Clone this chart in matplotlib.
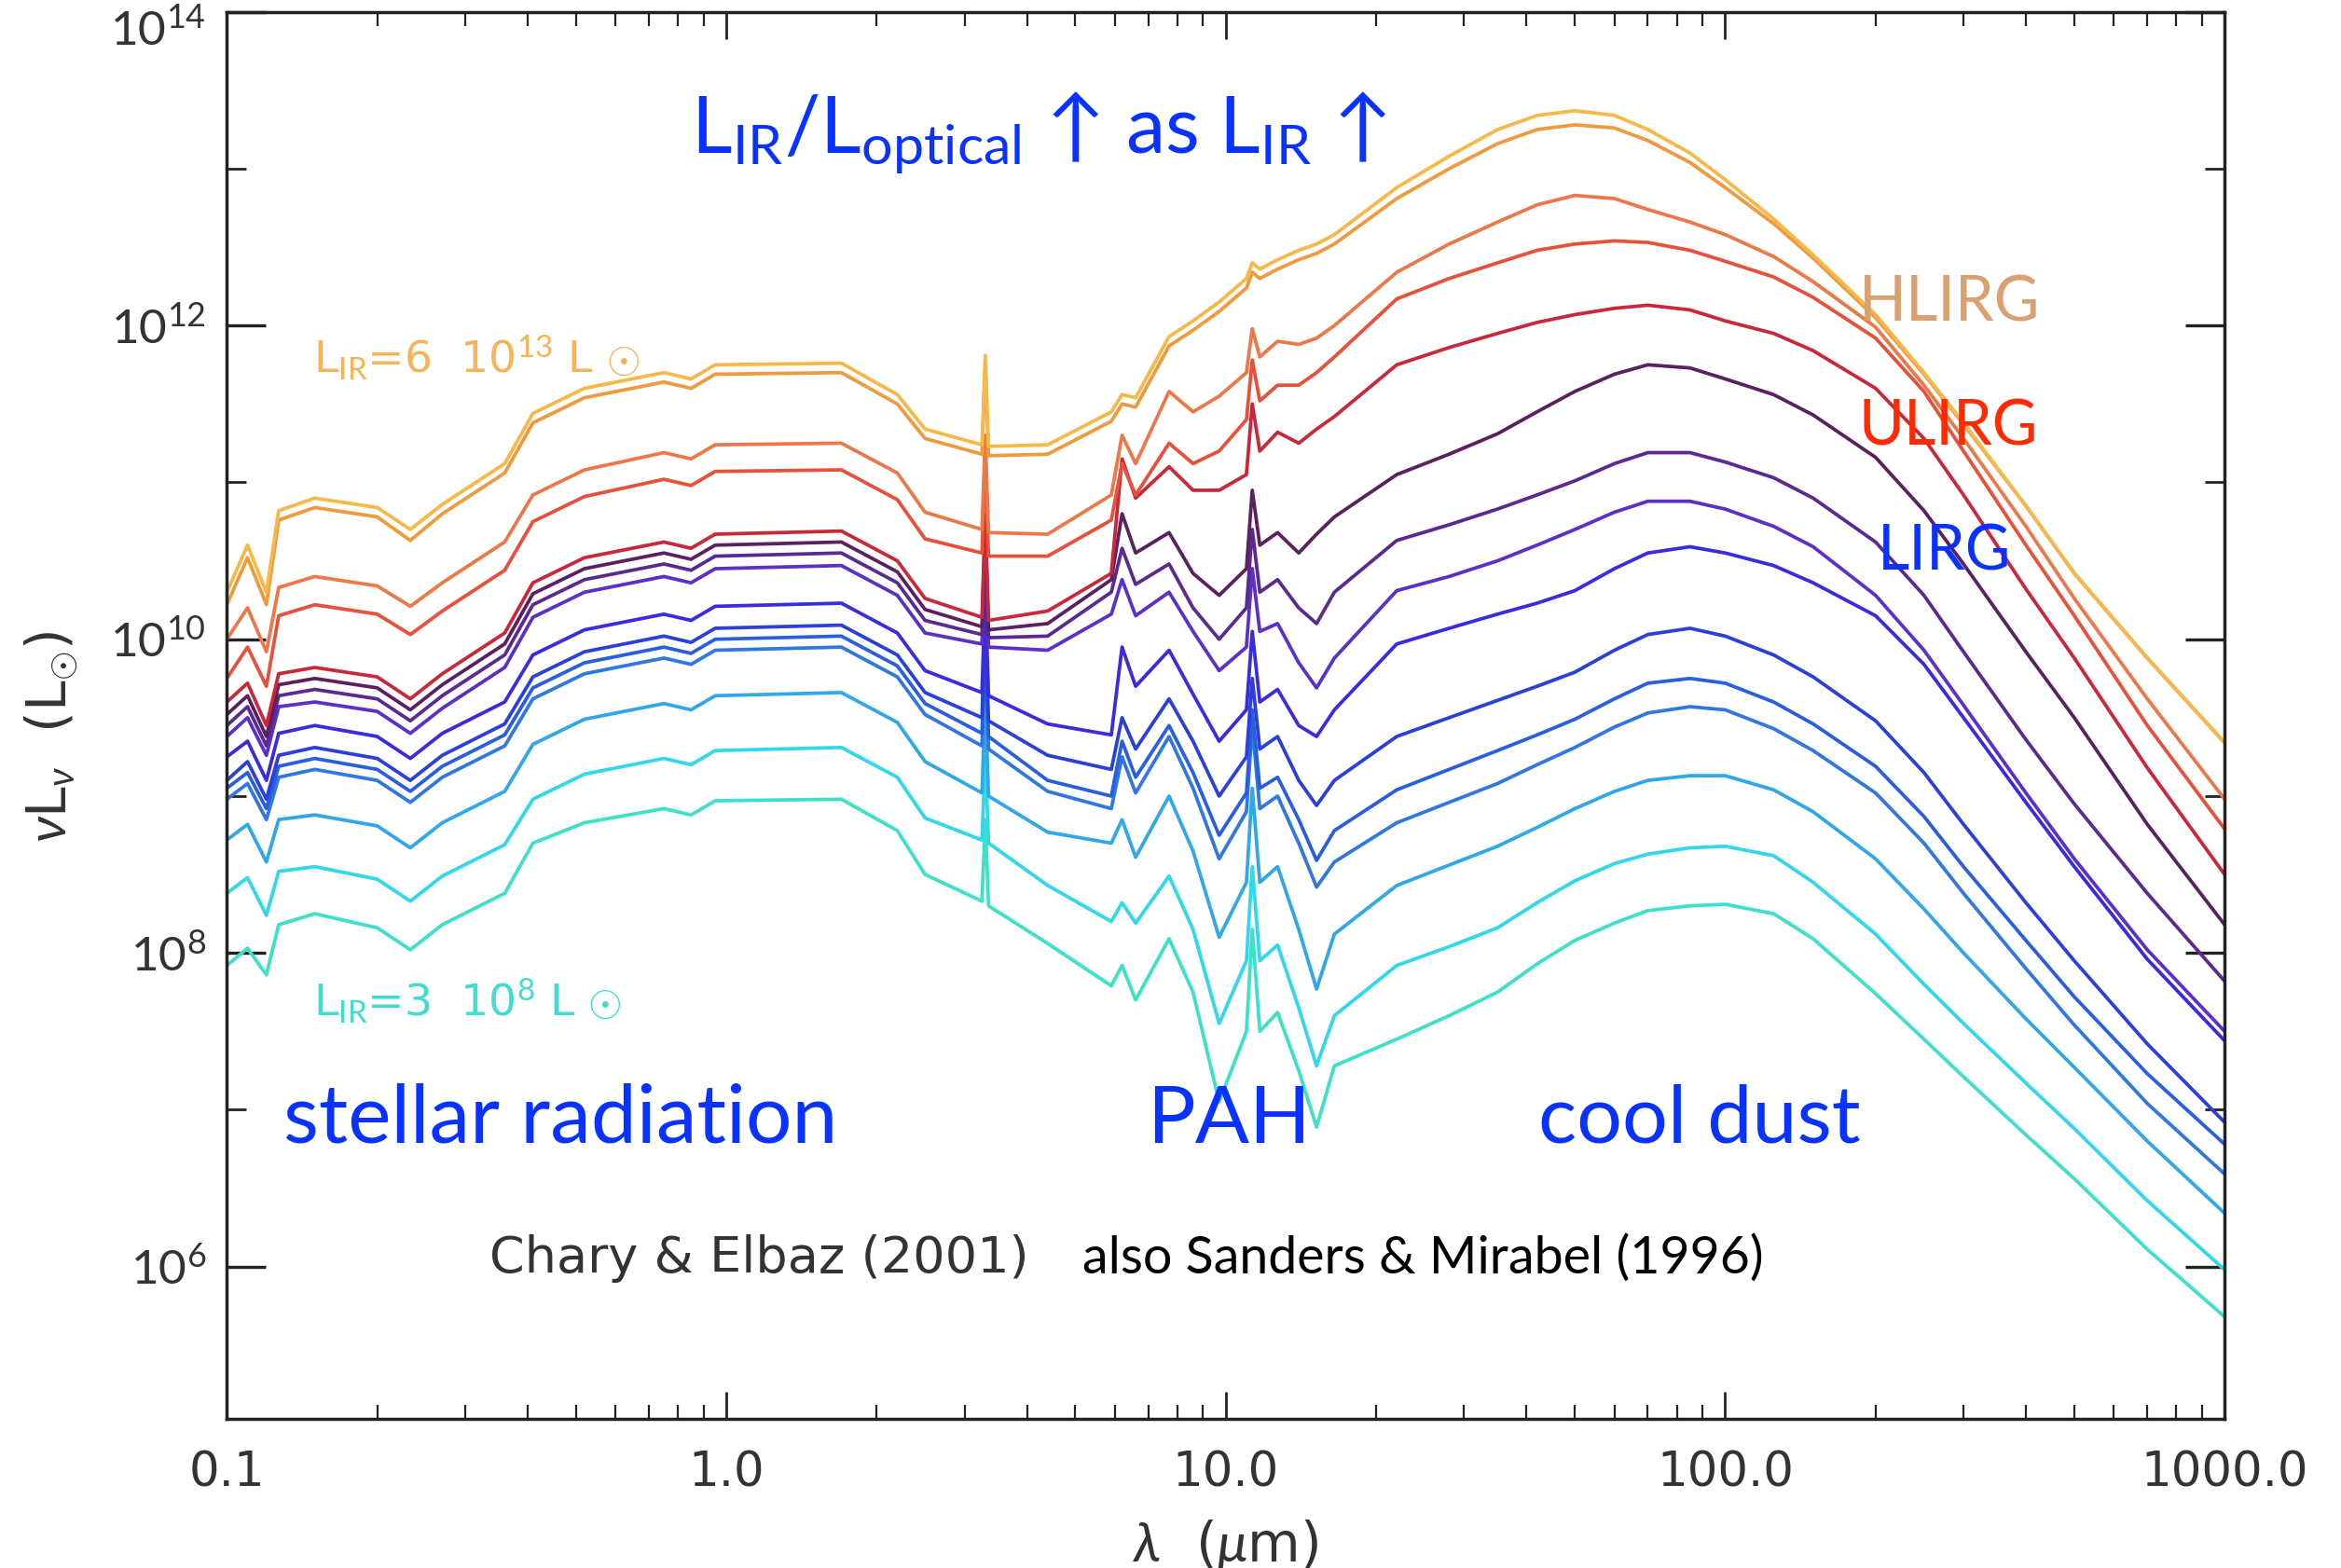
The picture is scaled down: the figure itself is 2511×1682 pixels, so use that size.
import matplotlib
matplotlib.use("Agg")
import matplotlib.pyplot as plt
import matplotlib.transforms as mtransforms
import numpy as np
from matplotlib.ticker import LogLocator, NullFormatter, FixedLocator

plt.rcParams['font.family'] = ['DejaVu Sans']
plt.rcParams['mathtext.fontset'] = 'custom'
plt.rcParams['mathtext.rm'] = 'Lato'
plt.rcParams['mathtext.it'] = 'Lato:italic'
plt.rcParams['mathtext.bf'] = 'Lato:bold'

# wavelength grid (micron) shared by all templates
wavelength = [0.10, 0.11, 0.12, 0.127, 0.15, 0.20, 0.233, 0.27, 0.36, 0.41, 0.52, 0.75, 0.85, 0.95,
              1.7, 2.2, 2.5, 3.25, 3.3, 3.35, 4.4, 5.9, 6.2, 6.6, 7.7, 8.6, 9.7, 11.0, 11.3, 11.7,
              12.7, 14.0, 15.2, 16.5,
              22, 28, 35, 42, 50, 60, 70, 85, 100, 125, 150, 200, 250, 300, 400, 500, 700, 1000]

# log10(nu L_nu / Lsun), brightest template first
sed_01 = [10.30, 10.60, 10.30, 10.82, 10.90, 10.84, 10.70, 10.86, 11.12, 11.44, 11.60, 11.70, 11.66, 11.75,
          11.76, 11.56, 11.34, 11.24, 11.81, 11.23, 11.24, 11.45, 11.56, 11.54, 11.93, 12.03, 12.15, 12.30, 12.40, 12.36,
          12.42, 12.48, 12.52, 12.58,
          12.88, 13.08, 13.25, 13.34, 13.37, 13.34, 13.25, 13.10, 12.93, 12.68, 12.45, 12.07, 11.70, 11.38, 10.85, 10.42, 9.88, 9.34]
sed_02 = [10.22, 10.52, 10.22, 10.76, 10.84, 10.78, 10.63, 10.80, 11.06, 11.38, 11.54, 11.64, 11.60, 11.69,
          11.70, 11.50, 11.28, 11.18, 11.75, 11.17, 11.18, 11.39, 11.50, 11.48, 11.87, 11.97, 12.09, 12.24, 12.34, 12.30,
          12.36, 12.42, 12.46, 12.52,
          12.81, 13.00, 13.16, 13.25, 13.28, 13.26, 13.18, 13.04, 12.88, 12.65, 12.43, 12.05, 11.69, 11.37, 10.85, 10.42, 9.88, 9.34]
sed_03 = [10.00, 10.20, 9.92, 10.33, 10.40, 10.34, 10.21, 10.36, 10.62, 10.92, 11.08, 11.19, 11.15, 11.24,
          11.25, 11.06, 10.81, 10.70, 11.30, 10.68, 10.67, 10.92, 11.30, 11.12, 11.58, 11.45, 11.55, 11.70, 11.98, 11.80,
          11.90, 11.88, 11.92, 12.00,
          12.34, 12.52, 12.66, 12.77, 12.83, 12.81, 12.74, 12.66, 12.58, 12.44, 12.28, 11.99, 11.62, 11.28, 10.72, 10.26, 9.62, 8.98]
sed_04 = [9.75, 9.95, 9.70, 10.15, 10.22, 10.16, 10.03, 10.18, 10.44, 10.75, 10.91, 11.02, 10.98, 11.07,
          11.08, 10.89, 10.64, 10.55, 11.15, 10.53, 10.53, 10.76, 11.12, 10.92, 11.25, 11.12, 11.20, 11.40, 11.78, 11.52,
          11.62, 11.62, 11.70, 11.80,
          12.17, 12.30, 12.40, 12.48, 12.52, 12.54, 12.53, 12.48, 12.41, 12.31, 12.18, 11.92, 11.58, 11.20, 10.60, 10.15, 9.45, 8.79]
sed_05 = [9.60, 9.72, 9.45, 9.78, 9.82, 9.76, 9.62, 9.78, 10.04, 10.36, 10.52, 10.62, 10.58, 10.67,
          10.69, 10.50, 10.26, 10.14, 10.80, 10.12, 10.18, 10.42, 11.15, 10.90, 11.10, 10.95, 10.95, 11.05, 11.50, 11.20,
          11.32, 11.25, 11.34, 11.42,
          11.75, 11.86, 11.95, 12.02, 12.07, 12.11, 12.13, 12.10, 12.03, 11.95, 11.84, 11.60, 11.28, 10.92, 10.32, 9.88, 9.18, 8.50]
sed_06 = [9.52, 9.64, 9.38, 9.71, 9.75, 9.69, 9.55, 9.71, 9.97, 10.29, 10.45, 10.55, 10.51, 10.60,
          10.62, 10.43, 10.19, 10.08, 10.72, 10.06, 10.10, 10.38, 10.80, 10.55, 10.68, 10.42, 10.28, 10.45, 10.95, 10.60,
          10.68, 10.55, 10.67, 10.78,
          11.05, 11.18, 11.31, 11.45, 11.58, 11.69, 11.75, 11.73, 11.66, 11.56, 11.43, 11.16, 10.82, 10.48, 9.92, 9.50, 8.82, 8.18]
sed_07 = [9.45, 9.57, 9.32, 9.64, 9.68, 9.62, 9.48, 9.64, 9.90, 10.22, 10.38, 10.48, 10.44, 10.53,
          10.55, 10.36, 10.12, 10.03, 10.65, 10.01, 10.02, 10.30, 10.58, 10.35, 10.48, 10.20, 10.00, 10.20, 10.70, 10.30,
          10.38, 10.20, 10.10, 10.30,
          10.63, 10.73, 10.83, 10.92, 11.01, 11.12, 11.19, 11.19, 11.13, 11.03, 10.90, 10.62, 10.28, 9.92, 9.36, 8.95, 8.38, 7.82]
sed_08 = [9.38, 9.50, 9.26, 9.57, 9.60, 9.54, 9.40, 9.56, 9.82, 10.14, 10.30, 10.40, 10.36, 10.45,
          10.47, 10.28, 10.04, 9.97, 10.58, 9.95, 9.93, 10.16, 10.38, 10.15, 10.30, 10.05, 9.80, 9.95, 10.45, 10.05,
          10.10, 9.85, 9.69, 9.88,
          10.31, 10.40, 10.50, 10.60, 10.70, 10.81, 10.88, 10.88, 10.83, 10.72, 10.59, 10.28, 9.93, 9.58, 9.02, 8.60, 8.02, 7.50]
sed_09 = [9.25, 9.35, 9.10, 9.40, 9.45, 9.38, 9.24, 9.40, 9.60, 9.90, 10.06, 10.16, 10.12, 10.21,
          10.23, 10.04, 9.80, 9.66, 10.30, 9.64, 9.46, 9.39, 9.95, 9.70, 9.93, 9.65, 9.35, 9.55, 10.05, 9.60,
          9.68, 9.45, 9.38, 9.55,
          9.97, 10.07, 10.16, 10.23, 10.31, 10.45, 10.55, 10.59, 10.55, 10.47, 10.36, 10.15, 9.84, 9.50, 8.96, 8.55, 7.96, 7.44]
sed_10 = [9.10, 9.22, 8.98, 9.26, 9.31, 9.24, 9.10, 9.26, 9.46, 9.76, 9.92, 10.02, 9.98, 10.07,
          10.09, 9.90, 9.66, 9.50, 10.12, 9.48, 9.26, 9.17, 9.50, 9.30, 9.62, 9.35, 9.00, 9.25, 9.75, 9.30,
          9.38, 9.10, 8.94, 9.10,
          9.38, 9.50, 9.61, 9.70, 9.79, 9.93, 10.03, 10.07, 10.02, 9.90, 9.76, 9.48, 9.15, 8.82, 8.32, 7.95, 7.42, 6.92]
sed_11 = [9.05, 9.15, 8.92, 9.19, 9.24, 9.17, 9.03, 9.19, 9.39, 9.69, 9.85, 9.95, 9.91, 10.00,
          10.02, 9.83, 9.59, 9.40, 10.00, 9.38, 9.10, 9.00, 9.35, 9.12, 9.45, 9.15, 8.75, 9.02, 9.55, 9.05,
          9.12, 8.85, 8.59, 8.78,
          9.04, 9.17, 9.29, 9.39, 9.49, 9.62, 9.72, 9.75, 9.72, 9.60, 9.46, 9.19, 8.87, 8.55, 8.08, 7.72, 7.23, 6.78]
sed_12 = [8.98, 9.08, 8.85, 9.12, 9.17, 9.10, 8.96, 9.12, 9.32, 9.62, 9.78, 9.88, 9.84, 9.93,
          9.95, 9.76, 9.52, 9.32, 9.92, 9.30, 9.03, 8.92, 9.25, 9.02, 9.38, 9.05, 8.60, 8.90, 9.45, 8.92,
          9.00, 8.70, 8.42, 8.58,
          8.83, 8.96, 9.08, 9.20, 9.31, 9.44, 9.53, 9.57, 9.55, 9.43, 9.29, 9.02, 8.70, 8.38, 7.90, 7.54, 7.04, 6.59]
sed_13 = [8.72, 8.82, 8.58, 8.85, 8.88, 8.81, 8.67, 8.83, 9.03, 9.33, 9.49, 9.59, 9.55, 9.64,
          9.66, 9.47, 9.22, 9.02, 9.60, 9.00, 8.77, 8.70, 8.85, 8.61, 9.00, 8.65, 8.10, 8.45, 9.05, 8.45,
          8.55, 8.15, 7.77, 8.12,
          8.43, 8.56, 8.68, 8.80, 8.92, 9.03, 9.10, 9.13, 9.13, 9.04, 8.90, 8.60, 8.28, 8.00, 7.58, 7.27, 6.80, 6.34]
sed_14 = [8.38, 8.48, 8.24, 8.52, 8.55, 8.47, 8.33, 8.49, 8.69, 8.98, 9.14, 9.24, 9.20, 9.29,
          9.31, 9.12, 8.86, 8.72, 9.25, 8.70, 8.43, 8.20, 8.32, 8.19, 8.49, 8.15, 7.55, 7.95, 8.55, 7.95,
          8.05, 7.65, 7.28, 7.60,
          7.92, 8.04, 8.16, 8.32, 8.46, 8.57, 8.63, 8.67, 8.68, 8.62, 8.45, 8.12, 7.80, 7.55, 7.17, 6.88, 6.42, 5.98]
sed_15 = [7.92, 8.03, 7.86, 8.18, 8.25, 8.16, 8.02, 8.18, 8.38, 8.70, 8.83, 8.92, 8.88, 8.97,
          8.98, 8.78, 8.50, 8.33, 8.85, 8.30, 8.06, 7.79, 7.92, 7.70, 8.09, 7.75, 7.05, 7.50, 8.15, 7.50,
          7.62, 7.25, 6.89, 7.28,
          7.45, 7.60, 7.75, 7.93, 8.08, 8.19, 8.27, 8.30, 8.31, 8.25, 8.09, 7.74, 7.45, 7.21, 6.84, 6.56, 6.11, 5.68]

seds = [sed_01, sed_02, sed_03, sed_04, sed_05, sed_06, sed_07, sed_08,
        sed_09, sed_10, sed_11, sed_12, sed_13, sed_14, sed_15]
colors = ['#f7b84a', '#ef9a3c', '#ec7848', '#e8503a', '#c8283a', '#5a2060', '#5a2a90', '#5a30c8',
          '#3a2ae0', '#2a40d8', '#2a5ee0', '#3078e0', '#30a8e8', '#30d8ea', '#3ee0c8']

xticks = [0.1, 1.0, 10.0, 100.0, 1000.0]
xticklabels = ['0.1', '1.0', '10.0', '100.0', '1000.0']
yticks = [1e6, 1e8, 1e10, 1e12, 1e14]
yticklabels = [r'$10^{6}$', r'$10^{8}$', r'$10^{10}$', r'$10^{12}$', r'$10^{14}$']

fig = plt.figure(figsize=(25.11, 16.82), dpi=100)
ax = fig.add_axes([0.0969, 0.0952, 0.8534, 0.8972])

for lg, c in zip(seds[::-1], colors[::-1]):
    ax.plot(wavelength, 10 ** np.array(lg), color=c, lw=2.7, solid_joinstyle='round')

ax.set_xscale('log')
ax.set_yscale('log')
ax.set_xlim(0.1, 1000)
ax.set_ylim(10 ** 5.03, 1e14)

ax.set_xticks(xticks)
ax.set_xticklabels(xticklabels)
ax.xaxis.set_minor_locator(LogLocator(base=10, subs=np.arange(2, 10)))
ax.xaxis.set_minor_formatter(NullFormatter())
ax.set_yticks(yticks)
ax.set_yticklabels(yticklabels)
ax.yaxis.set_minor_locator(FixedLocator([1e7, 1e9, 1e11, 1e13]))
ax.yaxis.set_minor_formatter(NullFormatter())

ax.tick_params(which='both', direction='in', top=True, right=True, colors='#222222')
ax.tick_params(axis='x', which='major', length=21, width=2, pad=24, labelsize=37, labelcolor='#333333')
ax.tick_params(axis='x', which='minor', length=11, width=1.6)
ax.tick_params(axis='y', which='major', length=30, width=2.4, pad=16, labelsize=37, labelcolor='#333333')
ax.tick_params(axis='y', which='minor', length=15, width=2)
for s in ax.spines.values():
    s.set_linewidth(2.5)
    s.set_color('#222222')

# the top label sits a little below its tick in the original
top_label = ax.get_yticklabels()[-1]
top_label.set_transform(top_label.get_transform() +
                        mtransforms.ScaledTranslation(0, -12 / 72, fig.dpi_scale_trans))

ax.set_ylabel(r'$\nu$L$_{\nu}$  (L$_{\odot}$)', fontsize=42, color='#333333')
ax.yaxis.set_label_coords(-0.074, 0.485)
ax.set_xlabel(r'$\lambda$  ($\mu$m)', fontsize=42, color='#333333')
ax.xaxis.set_label_coords(0.5, -0.07)

blue = '#0a32ff'
big = ['Lato', 'DejaVu Sans']
ax.text(0.85, 10 ** 13.1, r'L$_{\rm IR}$/L$_{\rm optical}$ ↑ as L$_{\rm IR}$ ↑', color=blue,
        fontsize=61, family=big, ha='left', va='baseline')
ax.text(0.130, 10 ** 6.79, 'stellar radiation', color=blue, fontsize=63, family=big)
ax.text(6.95, 10 ** 6.79, 'PAH', color=blue, fontsize=62, family=big)
ax.text(42.2, 10 ** 6.79, 'cool dust', color=blue, fontsize=62, family=big)

ax.text(185, 10 ** 12.03, 'HLIRG', color='#d9a070', fontsize=48, family=big)
ax.text(185, 10 ** 11.24, 'ULIRG', color='#ff2a00', fontsize=48, family=big)
ax.text(202, 10 ** 10.44, 'LIRG', color=blue, fontsize=48, family=big)

ax.text(0.149, 10 ** 11.70, r'L$_{\rm IR}$=6  10$^{13}$ L $\odot$', color='#f5b45a', fontsize=34)
ax.text(0.149, 10 ** 7.60, r'L$_{\rm IR}$=3  10$^{8}$ L $\odot$', color='#40dcd0', fontsize=34)

ax.text(0.336, 10 ** 5.96, 'Chary & Elbaz (2001)', color='#333333', fontsize=39)
ax.text(5.17, 10 ** 5.96, 'also Sanders & Mirabel (1996)', color='black', fontsize=40, family=big)

fig.savefig('out.png', dpi=100)
